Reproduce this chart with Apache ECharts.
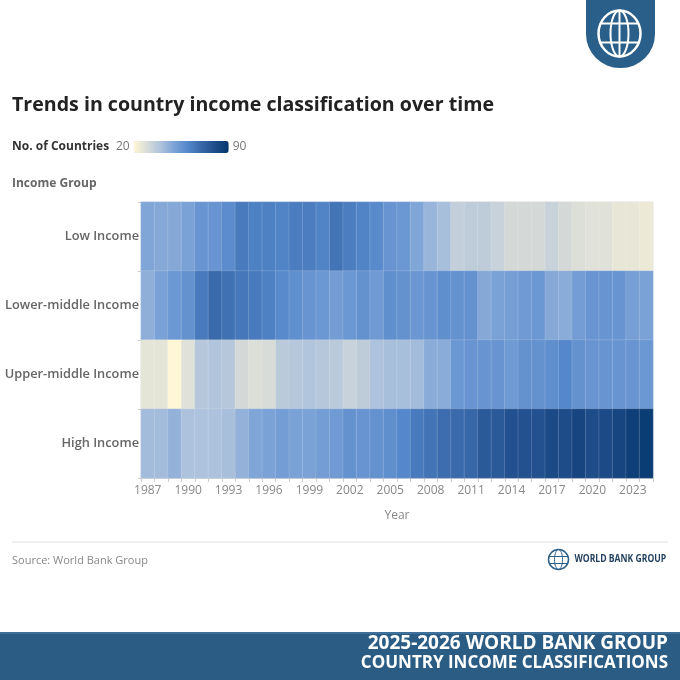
<!DOCTYPE html>
<html>
<head>
<meta charset="UTF-8">
<title>Trends in country income classification over time</title>
<style>
  html, body { margin: 0; padding: 0; background: #fff; }
  #chart { width: 680px; height: 680px; }
</style>
<script src="https://cdn.jsdelivr.net/npm/echarts@6/dist/echarts.min.js"></script>
</head>
<body>
<div id="chart"></div>
<script>
// years 1987 - 2024
var years = [];
for (var y = 1987; y <= 2024; y++) years.push(String(y));

var groups = ['Low Income', 'Lower-middle Income', 'Upper-middle Income', 'High Income'];

// number of countries per group
var lowIncome = [49, 48, 48, 50, 55, 55, 58, 64, 62, 62, 61, 63, 63, 61, 66, 63, 61, 59, 55, 54,
  49, 44, 41, 35, 36, 36, 34, 31, 31, 31, 34, 31, 29, 28, 28, 26, 26, 25];
var lowerMiddle = [46, 50, 54, 56, 64, 69, 67, 65, 64, 62, 59, 57, 55, 54, 52, 54, 56, 53, 57, 56,
  54, 55, 57, 56, 56, 48, 50, 51, 53, 54, 48, 47, 52, 55, 55, 55, 51, 50];
var upperMiddle = [27, 27, 20, 28, 38, 39, 38, 31, 29, 30, 37, 38, 39, 38, 37, 34, 36, 40, 41, 41,
  42, 47, 47, 54, 55, 55, 55, 53, 56, 56, 57, 60, 56, 55, 55, 55, 55, 54];
var highIncome = [42, 42, 45, 40, 40, 40, 41, 45, 49, 50, 52, 50, 50, 52, 53, 56, 55, 56, 57, 60,
  64, 66, 68, 69, 70, 75, 75, 78, 78, 78, 81, 80, 83, 80, 81, 83, 86, 87];

var xTicks = ['1987', '1990', '1993', '1996', '1999', '2002', '2005', '2008', '2011', '2014', '2017', '2020', '2023'];

var rows = [lowIncome, lowerMiddle, upperMiddle, highIncome];
var cells = [];
for (var r = 0; r < rows.length; r++) {
  for (var c = 0; c < years.length; c++) {
    cells.push([c, r, rows[r][c]]);
  }
}

var font = '"Open Sans", "Noto Sans", sans-serif';
var chart = echarts.init(document.getElementById('chart'));

var option = {
  backgroundColor: '#fff',
  animation: false,
  title: {
    text: 'Trends in country income classification over time',
    left: 12,
    top: 95,
    padding: 0,
    textStyle: { fontFamily: font, fontSize: 19.6, fontWeight: 'bold', color: '#222' }
  },
  grid: {
    left: 141, right: 27, top: 202, bottom: 202,
    show: true, borderColor: '#e4e4e4', borderWidth: 1
  },
  xAxis: {
    type: 'category',
    data: years,
    name: 'Year',
    nameLocation: 'middle',
    nameGap: 32,
    nameTextStyle: { fontFamily: font, fontSize: 12, color: '#888' },
    axisLine: { show: true, lineStyle: { color: '#ccc' } },
    axisTick: { show: true, interval: 0, length: 4, lineStyle: { color: '#ccc' } },
    axisLabel: {
      fontFamily: font, fontSize: 12, color: '#888', margin: 7,
      formatter: function (v) { return xTicks.indexOf(v) >= 0 ? v : ''; },
      interval: 0
    }
  },
  yAxis: {
    type: 'category',
    data: groups,
    inverse: true,
    axisLine: { show: false },
    axisTick: { show: true, length: 3, lineStyle: { color: '#ccc' } },
    axisLabel: { fontFamily: font, fontSize: 12.8, fontWeight: 600, color: '#666', margin: 2,
      padding: [4, 0, 0, 0] }
  },
  visualMap: {
    type: 'continuous',
    min: 20,
    max: 90,
    orient: 'horizontal',
    left: 116,
    top: 141,
    padding: 0,
    itemWidth: 12,
    itemHeight: 95,
    text: ['90', '20'],
    textGap: 4,
    textStyle: { fontFamily: font, fontSize: 12, color: '#777' },
    calculable: false,
    seriesIndex: 0,
    inRange: {
      color: ['#fff6d6', '#d8dcd8', '#adc2dc', '#7ba2d6', '#5487cb', '#3867a8', '#1e4c89', '#03366c']
    }
  },
  graphic: [
    { type: 'text', left: 12, top: 141,
      style: { text: 'No. of Countries', fontFamily: font, fontSize: 12, fontWeight: 'bold', fill: '#333' } },
    { type: 'text', left: 12, top: 178,
      style: { text: 'Income Group', fontFamily: font, fontSize: 12, fontWeight: 'bold', fill: '#666' } },
    { type: 'line', shape: { x1: 12, y1: 542, x2: 668, y2: 542 },
      style: { stroke: '#e2e2e2', lineWidth: 1 } },
    { type: 'text', left: 12, top: 555,
      style: { text: 'Source: World Bank Group', fontFamily: font, fontSize: 11, fill: '#888' } },
    // small logo bottom right
    { type: 'group', left: 546, top: 547, children: [
      { type: 'circle', shape: { cx: 11, cy: 11, r: 10 }, style: { fill: 'none', stroke: '#2a5f8a', lineWidth: 1.5 } },
      { type: 'ellipse', shape: { cx: 11, cy: 11, rx: 4, ry: 10 }, style: { fill: 'none', stroke: '#2a5f8a', lineWidth: 1 } },
      { type: 'line', shape: { x1: 1, y1: 8, x2: 21, y2: 8 }, style: { stroke: '#2a5f8a', lineWidth: 1 } },
      { type: 'line', shape: { x1: 2, y1: 15, x2: 20, y2: 15 }, style: { stroke: '#2a5f8a', lineWidth: 1 } },
      { type: 'text', x: 27, y: 5, scaleX: 0.82,
        style: { text: 'WORLD BANK GROUP', fontFamily: font, fontSize: 10.5, fontWeight: 'bold', fill: '#1f3d5c' } }
    ] },
    // badge top right
    { type: 'rect', shape: { x: 586, y: -10, width: 69, height: 78, r: [0, 0, 34, 34] },
      style: { fill: '#2a5f8a' } },
    { type: 'group', left: 596, top: 8, children: [
      { type: 'ellipse', shape: { cx: 25, cy: 24, rx: 21, ry: 23 }, style: { fill: 'none', stroke: '#fff', lineWidth: 2.5 } },
      { type: 'ellipse', shape: { cx: 25, cy: 24, rx: 9, ry: 23 }, style: { fill: 'none', stroke: '#fff', lineWidth: 2 } },
      { type: 'line', shape: { x1: 25, y1: 1, x2: 25, y2: 47 }, style: { stroke: '#fff', lineWidth: 2 } },
      { type: 'line', shape: { x1: 6, y1: 14, x2: 44, y2: 14 }, style: { stroke: '#fff', lineWidth: 2 } },
      { type: 'line', shape: { x1: 5, y1: 33, x2: 45, y2: 33 }, style: { stroke: '#fff', lineWidth: 2 } }
    ] },
    // bottom banner
    { type: 'rect', shape: { x: 0, y: 632, width: 680, height: 48 },
      style: { fill: '#2b5d84' } },
    { type: 'rect', shape: { x: 0, y: 632, width: 680, height: 2 },
      style: { fill: '#3f7099' } },
    { type: 'text', right: 12, top: 634,
      style: { text: '2025-2026 WORLD BANK GROUP', fontFamily: font, fontSize: 19, fontWeight: 'bold', fill: '#fff' } },
    { type: 'text', right: 12, top: 655,
      style: { text: 'COUNTRY INCOME CLASSIFICATIONS', fontFamily: font, fontSize: 17, fontWeight: 'bold', fill: '#fff' } }
  ],
  series: [{
    type: 'heatmap',
    data: cells,
    itemStyle: { borderColor: 'rgba(255,255,255,0.25)', borderWidth: 0.6 },
    emphasis: { disabled: true }
  }]
};

chart.setOption(option);
</script>
</body>
</html>
